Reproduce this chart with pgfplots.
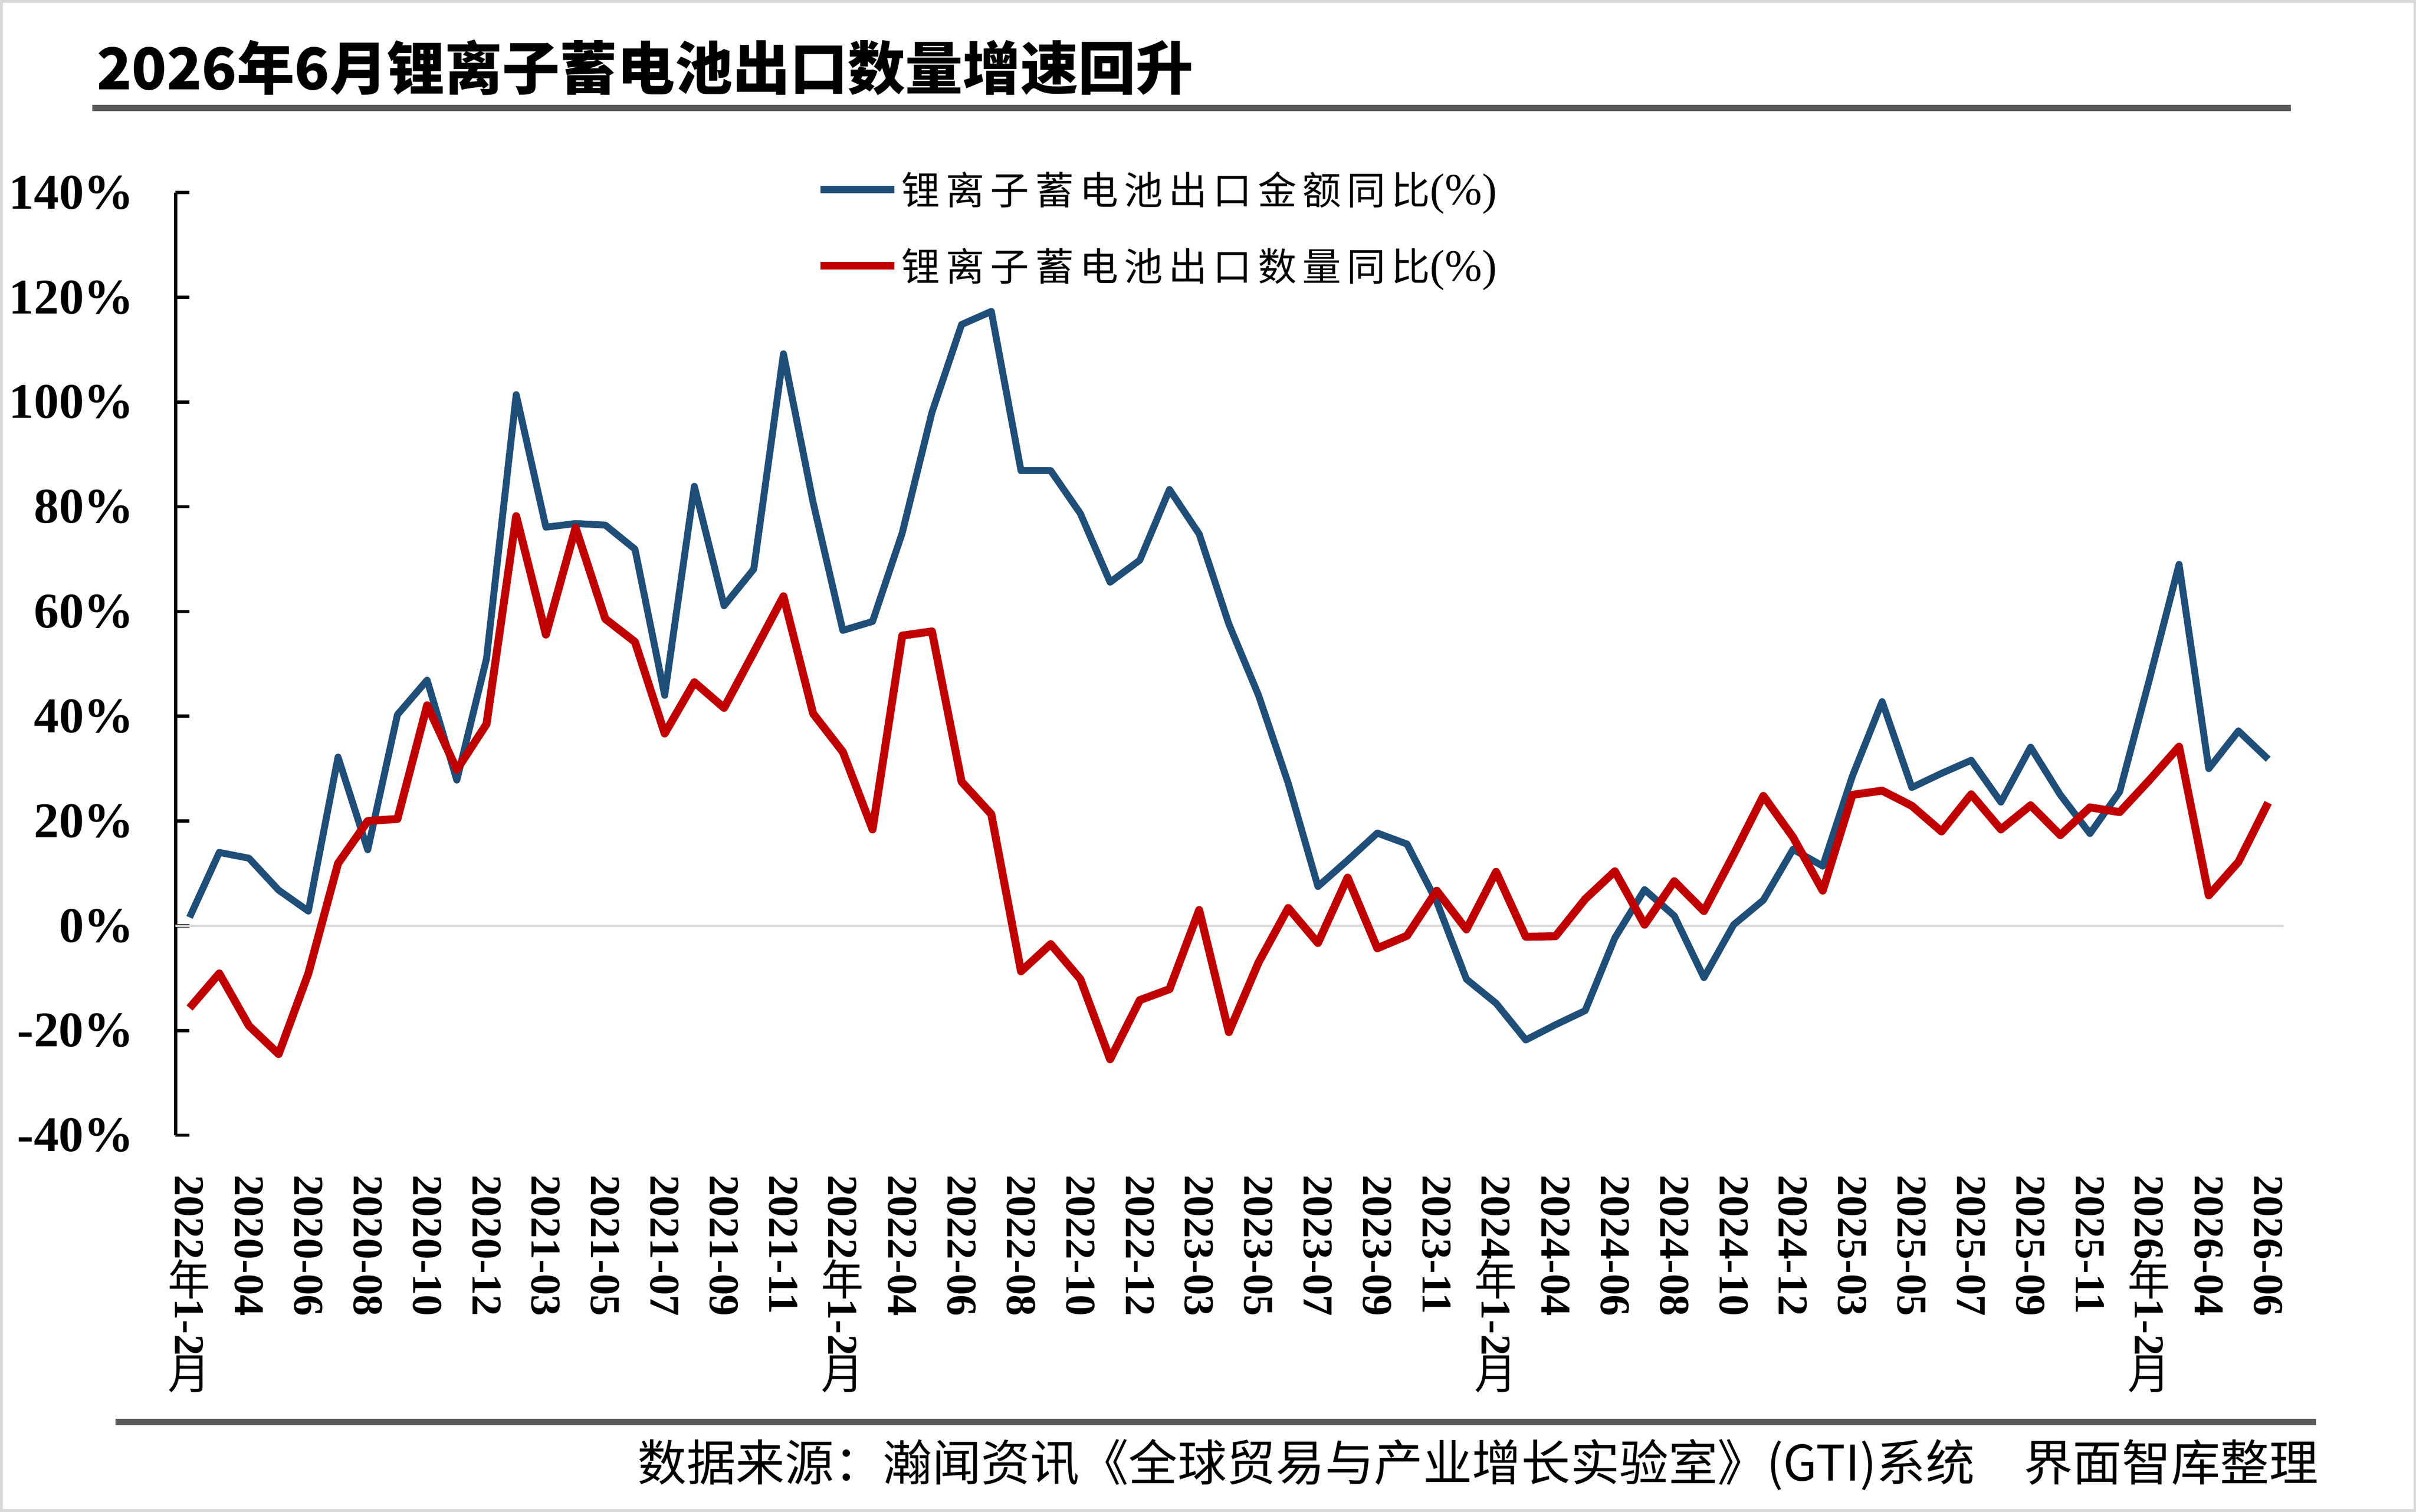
\documentclass[border=0pt]{standalone}
\usepackage{fontspec}
\usepackage{graphicx}
\usepackage{pgfplots}
\pgfplotsset{compat=1.18}
\setmainfont{Liberation Serif}
\newfontfamily\cjk{Noto Sans CJK SC}
\newfontfamily\cjkleg[LetterSpace=15]{Noto Sans CJK SC}
\definecolor{blueline}{HTML}{1F4E79}
\definecolor{redline}{HTML}{C00000}
\definecolor{rulegray}{HTML}{595959}
\definecolor{framegray}{HTML}{D9D9D9}
\definecolor{zerogray}{HTML}{D9D9D9}
\newcommand\vcjk[1]{\raisebox{-0.17em}[0.68em][0pt]{\rotatebox{90}{\cjk\mdseries #1}}}
\pgfplotstableread{
idx amount qty
0 1.6 -15.7
1 14.0 -9.1
2 12.9 -19.1
3 6.8 -24.5
4 2.8 -9.1
5 32.2 11.9
6 14.5 20.0
7 40.3 20.4
8 46.9 42.1
9 27.8 29.8
10 51.0 38.5
11 101.4 78.2
12 76.1 55.6
13 76.8 76.0
14 76.5 58.6
15 71.9 54.2
16 44.0 36.7
17 83.9 46.5
18 61.1 41.6
19 68.1 52.2
20 109.2 62.9
21 80.8 40.5
22 56.4 33.2
23 58.1 18.4
24 75.0 55.4
25 98.0 56.2
26 114.8 27.5
27 117.3 21.3
28 86.9 -8.7
29 86.9 -3.5
30 78.7 -10.2
31 65.6 -25.5
32 69.8 -14.2
33 83.3 -12.1
34 74.8 3.0
35 57.6 -20.3
36 44.0 -7.0
37 27.2 3.4
38 7.5 -3.3
39 12.5 9.2
40 17.7 -4.3
41 15.6 -1.9
42 4.6 6.7
43 -10.2 -0.7
44 -14.8 10.3
45 -21.8 -2.1
46 -18.9 -2.0
47 -16.2 5.1
48 -2.3 10.4
49 6.9 0.2
50 1.9 8.5
51 -9.9 2.8
52 0.2 13.6
53 4.9 24.8
54 14.6 16.9
55 11.4 6.7
56 28.6 25.0
57 42.8 25.8
58 26.4 22.9
59 29.1 18.0
60 31.6 25.1
61 23.6 18.4
62 34.1 23.0
63 25.0 17.3
64 17.6 22.6
65 25.6 21.7
66 47.0 27.8
67 69.0 34.2
68 30.0 5.8
69 37.2 12.2
70 31.8 23.5
}\datatable
\begin{document}
\begin{tikzpicture}
\path[use as bounding box] (0,0) rectangle (16cm,10.0152cm);
\draw[framegray, line width=0.5pt] (0.009cm,0.009cm) rectangle (15.991cm,10.006cm);
\node[anchor=west, inner sep=0pt] at (0.633cm,9.566cm) {\cjk\bfseries\fontsize{10.85}{13}\selectfont 2026年6月锂离子蓄电池出口数量增速回升};
\draw[rulegray, line width=1.1pt] (0.612cm,9.30cm) -- (15.17cm,9.30cm);
\draw[rulegray, line width=1.15pt] (0.765cm,0.597cm) -- (15.337cm,0.597cm);
\node[anchor=east, inner sep=0pt] at (15.36cm,0.311cm) {\cjk\fontsize{9.25}{11}\selectfont 数据来源：瀚闻资讯《全球贸易与产业增长实验室》(GTI)系统\hspace{1em}界面智库整理};
\begin{axis}[
  at={(1.163cm,2.495cm)}, anchor=south west,
  scale only axis, width=13.96cm, height=6.245cm,
  xmin=-0.47, xmax=70.52, ymin=-40, ymax=140,
  clip=false,
  axis y line*=left, axis x line*=bottom,
  x axis line style={draw=none},
  y axis line style={black, line width=0.6pt},
  xtick style={draw=none},
  ytick style={black, line width=0.6pt},
  tick align=inside, major tick length=0.092cm,
  ytick={-40,-20,0,20,40,60,80,100,120,140},
  yticklabels={-40\%,-20\%,0\%,20\%,40\%,60\%,80\%,100\%,120\%,140\%},
  yticklabel style={font=\bfseries\fontsize{9.4}{10}\selectfont, inner sep=0pt, anchor=east},
  yticklabel shift=0.27cm,
  xtick={0,2,...,70},
  xticklabels={
    2022\vcjk{年}1-2\vcjk{月},2020-04,2020-06,2020-08,2020-10,2020-12,
    2021-03,2021-05,2021-07,2021-09,2021-11,
    2022\vcjk{年}1-2\vcjk{月},2022-04,2022-06,2022-08,2022-10,2022-12,
    2023-03,2023-05,2023-07,2023-09,2023-11,
    2024\vcjk{年}1-2\vcjk{月},2024-04,2024-06,2024-08,2024-10,2024-12,
    2025-03,2025-05,2025-07,2025-09,2025-11,
    2026\vcjk{年}1-2\vcjk{月},2026-04,2026-06},
  xticklabel style={rotate=-90, anchor=west, inner sep=0pt, font=\bfseries\fontsize{8}{8}\selectfont},
  xticklabel shift=0.255cm,
  legend style={at={(0.304,1.022)}, anchor=north west, draw=none, fill=none,
    inner sep=0pt, outer sep=0pt, row sep=0.234cm, column sep=0.02cm,
    nodes={inner sep=0pt, anchor=base west},
    font=\fontsize{7.3}{8}\selectfont},
  legend cell align=left,
  legend image code/.code={\draw[#1] (0cm,0.1cm) -- (0.49cm,0.1cm);},
]
\draw[zerogray, line width=0.5pt] (axis cs:-0.47,0) -- (axis cs:70.52,0);
\addplot[blueline, line width=1.3pt, line join=round] table[x=idx, y=amount] {\datatable};
\addlegendentry{{\cjkleg 锂离子蓄电池出口金额同比}{\fontsize{8.4}{9}\selectfont(\%)}}
\addplot[redline, line width=1.5pt, line join=round] table[x=idx, y=qty] {\datatable};
\addlegendentry{{\cjkleg 锂离子蓄电池出口数量同比}{\fontsize{8.4}{9}\selectfont(\%)}}
\end{axis}
\end{tikzpicture}
\end{document}
